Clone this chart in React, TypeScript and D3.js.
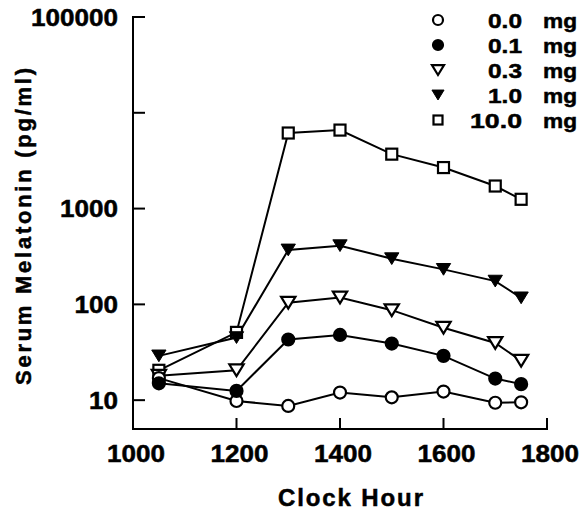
import React from "react"
import * as d3 from "d3"

const hours = [1050, 1200, 1300, 1400, 1500, 1600, 1700, 1750]
const dose00 = [17, 9.8, 8.7, 12, 10.7, 12.3, 9.4, 9.5]
const dose01 = [15, 12.5, 43, 48, 39, 29, 16.8, 14.7]
const dose03 = [18, 20.5, 104, 118, 87, 57, 39.5, 25.8]
const dose10 = [29, 45, 370, 410, 300, 232, 175, 117]
const dose100 = [20.5, 51, 6150, 6600, 3700, 2680, 1720, 1250]

const xTicks = [1000, 1200, 1400, 1600, 1800]
const yTicks = [10, 100, 1000, 10000, 100000]
const yLabels = ["10", "100", "1000", "", "100000"]
const legendLabels = ["0.0", "0.1", "0.3", "1.0", "10.0"]

type Marker = "circleOpen" | "circleFilled" | "triOpen" | "triFilled" | "square"

const series: { values: number[]; marker: Marker }[] = [
  { values: dose100, marker: "square" },
  { values: dose10, marker: "triFilled" },
  { values: dose03, marker: "triOpen" },
  { values: dose00, marker: "circleOpen" },
  { values: dose01, marker: "circleFilled" },
]
const legendOrder: Marker[] = ["circleOpen", "circleFilled", "triOpen", "triFilled", "square"]

const font = "'Liberation Sans', Arial, Helvetica, sans-serif"

const digitWidth = 14.5

function MarkerShape({ kind, x, y, s }: { kind: Marker; x: number; y: number; s: number }) {
  const r = s / 2
  if (kind === "circleOpen" || kind === "circleFilled") {
    return (
      <circle
        cx={x}
        cy={y}
        r={r - 0.5}
        fill={kind === "circleFilled" ? "black" : "white"}
        stroke="black"
        strokeWidth={2.2}
      />
    )
  }
  if (kind === "square") {
    return (
      <rect x={x - r + 1} y={y - r + 1} width={s - 2} height={s - 2} fill="white" stroke="black" strokeWidth={2.2} />
    )
  }
  const w = s * 1.1
  const h = s * 0.9
  const d = `M${x - w / 2},${y - h / 2}L${x + w / 2},${y - h / 2}L${x},${y + h / 2}Z`
  return (
    <path
      d={d}
      fill={kind === "triFilled" ? "black" : "white"}
      stroke="black"
      strokeWidth={kind === "triFilled" ? 1 : 2.2}
      strokeLinejoin="miter"
    />
  )
}

export default function App() {
  const width = 584
  const height = 511

  const x = d3.scaleLinear().domain([1000, 1800]).range([133, 547])
  const y = d3.scaleLog().domain([5, 100000]).range([429, 17])

  const line = d3
    .line<number>()
    .x((_, i) => x(hours[i]))
    .y(d => y(d))

  return (
    <svg
      width={width}
      height={height}
      style={{ position: "absolute", left: 0, top: 0, background: "white" }}
      fontFamily={font}
      fontWeight="bold"
    >
      <rect width={width} height={height} fill="white" />

      {/* axes */}
      <line x1={x(1000)} y1={y(100000) - 1} x2={x(1000)} y2={430} stroke="black" strokeWidth={2} />
      <line x1={x(1000) - 1} y1={429} x2={x(1800) + 1} y2={429} stroke="black" strokeWidth={2} />

      {/* all text gets a thin stroke: the scanned type is heavier than plain bold */}
      <g stroke="black" strokeWidth={0.5}>
        {yTicks.map((t, i) => (
          <g key={"y" + t}>
            <line x1={x(1000)} x2={x(1000) + 12} y1={y(t)} y2={y(t)} strokeWidth={2} />
            {yLabels[i] && (
              <text
                x={118 - yLabels[i].length * digitWidth}
                y={y(t) + 8.5}
                fontSize={24}
                textLength={yLabels[i].length * digitWidth}
                lengthAdjust="spacingAndGlyphs"
              >
                {yLabels[i]}
              </text>
            )}
          </g>
        ))}

        {xTicks.map(t => (
          <g key={"x" + t}>
            {t > 1000 && <line x1={x(t)} x2={x(t)} y1={429} y2={418} strokeWidth={2} />}
            <text
              x={x(t) - 26}
              y={462}
              fontSize={24}
              textLength={4 * digitWidth}
              lengthAdjust="spacingAndGlyphs"
            >
              {t}
            </text>
          </g>
        ))}

        <text
          transform="translate(31,385) rotate(-90)"
          fontSize={22}
          textLength={317}
          lengthAdjust="spacing"
        >
          Serum Melatonin (pg/ml)
        </text>
        <text x={278} y={506} fontSize={24} textLength={145} lengthAdjust="spacing">
          Clock Hour
        </text>
      </g>

      {/* lines */}
      {series.map((s, i) => (
        <path key={"l" + i} d={line(s.values) ?? ""} fill="none" stroke="black" strokeWidth={2} />
      ))}

      {/* markers */}
      {series.map((s, i) => (
        <g key={"m" + i}>
          {s.values.map((v, j) => (
            <MarkerShape key={j} kind={s.marker} x={x(hours[j])} y={y(v)} s={13} />
          ))}
        </g>
      ))}

      {/* legend */}
      {legendOrder.map((m, i) => {
        const cy = 20 + i * 25
        const w = legendLabels[i].length === 4 ? 52 : 34
        return (
          <g key={"lg" + i}>
            <MarkerShape kind={m} x={438} y={cy} s={11} />
            <g stroke="black" strokeWidth={0.5}>
              <text x={522 - w} y={cy + 7.5} fontSize={21} textLength={w} lengthAdjust="spacingAndGlyphs">
                {legendLabels[i]}
              </text>
              <text x={543} y={cy + 7.5} fontSize={21} textLength={34} lengthAdjust="spacingAndGlyphs">
                mg
              </text>
            </g>
          </g>
        )
      })}
    </svg>
  )
}
